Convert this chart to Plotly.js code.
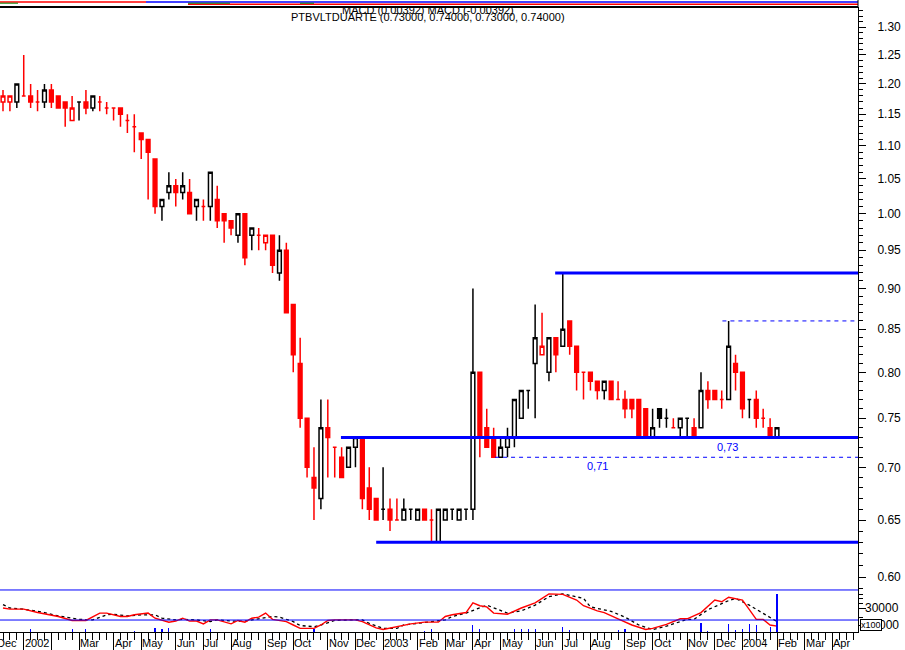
<!DOCTYPE html>
<html>
<head>
<meta charset="utf-8">
<script src="https://cdn.plot.ly/plotly-3.0.1.min.js"></script>
<style>
html,body{margin:0;padding:0;background:#fff;}
#chart{width:905px;height:650px;}
</style>
</head>
<body>
<div id="chart"></div>
<script>
// ---------- DATA (weekly candles, index 0 = mid Dec 2001) ----------
const opens = [1.17,1.17,1.17,1.18,1.18,1.17,1.17,1.19,1.18,1.17,
 1.14,1.17,1.17,1.16,1.17,1.16,1.16,1.16,1.14,1.13,
 1.12,1.11,1.08,1.01,1.03,1.04,1.03,1.03,1.01,1.01,
 1.01,1.02,1.00,0.99,0.97,1.00,0.97,0.97,0.96,0.97,
 0.92,0.95,0.88,0.81,0.75,0.69,0.67,0.74,0.72,0.71,
 0.70,0.72,0.73,0.68,0.67,0.66,0.66,0.65,0.65,0.66,
 0.65,0.66,0.65,0.63,0.65,0.66,0.65,0.66,0.66,0.80,
 0.74,0.73,0.71,0.72,0.73,0.75,0.78,0.81,0.82,0.80,
 0.84,0.83,0.86,0.83,0.80,0.80,0.79,0.78,0.79,0.77,
 0.77,0.77,0.77,0.76,0.73,0.76,0.75,0.74,0.74,0.75,
 0.74,0.74,0.78,0.78,0.77,0.77,0.81,0.80,0.77,0.77,
 0.75,0.74,0.73];
const highs = [1.19,1.18,1.20,1.25,1.20,1.19,1.20,1.20,1.18,1.17,
 1.18,1.17,1.19,1.18,1.18,1.17,1.16,1.16,1.15,1.15,
 1.12,1.11,1.08,1.02,1.06,1.05,1.06,1.05,1.02,1.02,
 1.06,1.04,1.00,0.99,1.00,1.00,0.98,0.98,0.97,0.97,
 0.97,0.96,0.88,0.84,0.75,0.72,0.77,0.77,0.72,0.72,
 0.72,0.73,0.73,0.70,0.67,0.70,0.67,0.67,0.67,0.66,
 0.66,0.66,0.66,0.66,0.66,0.66,0.66,0.66,0.90,0.80,
 0.76,0.74,0.73,0.74,0.77,0.78,0.78,0.88,0.87,0.84,
 0.84,0.92,0.86,0.83,0.80,0.80,0.79,0.79,0.79,0.79,
 0.78,0.77,0.77,0.76,0.76,0.76,0.76,0.75,0.75,0.75,
 0.75,0.80,0.79,0.78,0.78,0.86,0.82,0.80,0.77,0.78,
 0.76,0.75,0.74];
const lows = [1.155,1.155,1.16,1.18,1.16,1.155,1.16,1.16,1.16,1.13,
 1.14,1.14,1.15,1.155,1.155,1.15,1.14,1.13,1.12,1.09,
 1.08,1.02,1.00,0.99,1.02,1.01,1.02,1.00,0.99,0.99,
 0.99,0.98,0.96,0.97,0.96,0.93,0.95,0.95,0.95,0.92,
 0.91,0.87,0.80,0.74,0.69,0.65,0.66,0.69,0.69,0.69,
 0.70,0.70,0.66,0.65,0.65,0.65,0.64,0.65,0.65,0.65,
 0.65,0.65,0.63,0.63,0.65,0.65,0.65,0.65,0.65,0.71,
 0.72,0.71,0.71,0.71,0.72,0.75,0.76,0.75,0.82,0.79,
 0.80,0.83,0.82,0.78,0.77,0.78,0.77,0.77,0.77,0.77,
 0.75,0.75,0.73,0.73,0.73,0.74,0.74,0.74,0.73,0.73,
 0.73,0.74,0.76,0.77,0.76,0.77,0.78,0.75,0.75,0.74,
 0.74,0.73,0.73];
const closes = [1.18,1.18,1.20,1.18,1.17,1.17,1.19,1.17,1.16,1.16,
 1.16,1.17,1.16,1.18,1.17,1.16,1.16,1.15,1.14,1.13,
 1.11,1.09,1.01,1.02,1.04,1.03,1.04,1.00,1.02,1.01,
 1.06,0.99,0.99,0.98,1.00,0.94,0.98,0.97,0.97,0.93,
 0.95,0.87,0.82,0.75,0.70,0.68,0.74,0.73,0.72,0.69,
 0.72,0.73,0.67,0.66,0.65,0.66,0.65,0.65,0.66,0.66,
 0.66,0.65,0.65,0.66,0.66,0.66,0.66,0.66,0.80,0.73,
 0.72,0.71,0.72,0.73,0.77,0.78,0.78,0.84,0.83,0.84,
 0.82,0.85,0.83,0.80,0.80,0.79,0.78,0.79,0.77,0.77,
 0.76,0.76,0.73,0.73,0.74,0.75,0.75,0.74,0.75,0.75,
 0.73,0.78,0.77,0.77,0.77,0.83,0.80,0.76,0.77,0.75,
 0.75,0.73,0.74];

// month ticks (week index) and labels
const tickWeeks  = [-1,3,7,11,16,20,25,29,33,38,42,47,51,55,60,64,68,72,77,81,85,90,94,99,103,107,112,116,120];
const tickLabels = ["Dec","2002","","Mar","Apr","May","Jun","Jul","Aug","Sep","Oct","Nov","Dec","2003","Feb","Mar","Apr","May","Jun","Jul","Aug","Sep","Oct","Nov","Dec","2004","Feb","Mar","Apr"];

// price axis ticks
const priceTicks = [0.60,0.65,0.70,0.75,0.80,0.85,0.90,0.95,1.00,1.05,1.10,1.15,1.20,1.25,1.30];

// lower panel: oscillator (red), its signal (black dashed), volume (blue)
const macdWeeks  = [0,1,3,5,8,10,12,14,15,17,18,19,21,22,24,25,26,27,28,29,30,31,33,34,35,36,37,38,39,41,42,43,45,46,47,48,50,51,52,54,55,57,59,61,63,64,65,67,68,69,70,71,73,75,77,79,81,83,84,86,87,89,91,93,94,96,98,99,101,103,104,105,107,108,109,110,111,112];
const macdValues = [30,28,28,22,15,8,8,21,21,15,15,18,21,12,5,7,12,7,7,2,9,9,2,8,5,12,14,21,10,6,0,-6,-6,0,8,9,9,9,6,-5,-8,-3,2,5,5,15,18,22,39,34,32,21,19,30,39,55,54,44,34,25,22,11,0,-8,-6,1,11,11,22,44,41,49,44,27,10,10,0,-2];
const signalWeeks  = [0,1,3,6,8,11,13,15,16,18,20,22,23,25,26,28,30,31,33,35,37,39,40,42,43,45,46,48,50,52,53,55,57,58,60,62,64,65,67,70,71,73,75,77,79,81,84,85,88,90,92,94,96,99,100,102,105,106,108,110,112];
const signalValues = [36,30,28,22,16,10,9,18,19,16,18,18,12,9,10,9,6,9,7,7,11,15,14,6,-1,-3,0,8,9,9,3,-6,-6,0,3,6,9,15,21,35,30,21,25,35,50,55,47,32,24,14,0,-8,-2,10,10,27,43,47,35,21,6];
const volumeWeeks  = [4,10,12,19,22,23,24,30,45,61,62,68,69,74,75,76,77,81,82,89,90,101,102,105,106,107,108,109,111,112];
const volumeValues = [27,27,27,15,45,27,45,27,27,15,30,73,27,27,27,27,27,50,17,17,27,90,10,77,17,27,77,67,50,377];
const oscBands = [61.8, 8.8];

// support / resistance lines (price level, starting week)
const levelValues = [0.92, 0.73, 0.63];
const levelStartWeeks = [79.9, 48.9, 54.0];
const dashedLevelValues = [0.86, 0.71];
const dashedLevelStartWeeks = [104.1, 71.2];
const levelLabels = ["0,73", "0,71"];
const levelLabelWeeks = [104.9, 86.0];
const levelLabelPrices = [0.73, 0.71];

// ---------- BUILD ----------
const RED = '#ff0000', BLUE = '#0000ff', BLACK = '#000000';
const r0 = -0.4341, r1 = 123.72;
const toPaperX = w => (w - r0) / (r1 - r0);

const groups = {bh: [], rf: [], rh: [], bf: []};
let prevColor = 'r';
for (let i = 0; i < closes.length; i++) {
  let c = prevColor;
  if (i > 0) {
    if (closes[i] > closes[i - 1]) c = 'b';
    else if (closes[i] < closes[i - 1]) c = 'r';
  }
  prevColor = c;
  const filled = closes[i] < opens[i];
  groups[c + (filled ? 'f' : 'h')].push(i);
}
const styles = {
  bh: {line: BLACK, fill: '#ffffff'},
  rf: {line: RED, fill: RED},
  rh: {line: RED, fill: '#ffffff'},
  bf: {line: BLACK, fill: BLACK}
};
const traces = [];
Object.keys(groups).forEach(k => {
  const idx = groups[k];
  if (!idx.length) return;
  const st = styles[k];
  const side = {line: {color: st.line, width: 1.5}, fillcolor: st.fill};
  traces.push({
    type: 'candlestick', xaxis: 'x', yaxis: 'y',
    x: idx, open: idx.map(i => opens[i]), high: idx.map(i => highs[i]),
    low: idx.map(i => lows[i]), close: idx.map(i => closes[i]),
    increasing: side, decreasing: side, whiskerwidth: 0,
    hoverinfo: 'skip', showlegend: false
  });
});
traces.push({
  type: 'bar', xaxis: 'x', yaxis: 'y3', x: volumeWeeks, y: volumeValues,
  width: 0.16, marker: {color: BLUE, line: {width: 0}}, hoverinfo: 'skip'
});
traces.push({
  type: 'scatter', mode: 'lines', xaxis: 'x', yaxis: 'y2',
  x: signalWeeks, y: signalValues,
  line: {color: BLACK, width: 1.3, dash: '3px,3px'}, hoverinfo: 'skip'
});
traces.push({
  type: 'scatter', mode: 'lines', xaxis: 'x', yaxis: 'y2',
  x: macdWeeks, y: macdValues,
  line: {color: RED, width: 1.4}, hoverinfo: 'skip'
});

const minorPrice = [];
for (let v = 59; v <= 133; v++) minorPrice.push(v / 100);

const shapes = [];
// top border
shapes.push({type: 'line', xref: 'paper', yref: 'paper', x0: 0, x1: 1, y0: 1, y1: 1, line: {color: BLACK, width: 2}});
// decorative strip above the frame
const py = p => 1 + (7 - p) / 625;
const px = p => p / 858;
shapes.push({type: 'line', xref: 'paper', yref: 'paper', x0: px(0), x1: px(146), y0: py(2), y1: py(2), line: {color: RED, width: 1.5}});
shapes.push({type: 'line', xref: 'paper', yref: 'paper', x0: px(146), x1: px(858), y0: py(2), y1: py(2), line: {color: BLUE, width: 1.5}});
shapes.push({type: 'line', xref: 'paper', yref: 'paper', x0: px(188), x1: px(858), y0: py(4.2), y1: py(4.2), line: {color: RED, width: 1.5}});
shapes.push({type: 'line', xref: 'paper', yref: 'paper', x0: px(188), x1: px(230), y0: py(3.2), y1: py(3.2), line: {color: 'green', width: 1}});
shapes.push({type: 'line', xref: 'paper', yref: 'paper', x0: px(300), x1: px(314), y0: py(3.2), y1: py(3.2), line: {color: 'green', width: 1}});
shapes.push({type: 'line', xref: 'paper', yref: 'paper', x0: px(0), x1: px(18), y0: py(3.2), y1: py(3.2), line: {color: 'green', width: 1}});
shapes.push({type: 'line', xref: 'paper', yref: 'paper', x0: 1, x1: 1, y0: 1, y1: py(0), line: {color: BLACK, width: 1}});
// lower panel bands
oscBands.forEach(v => shapes.push({type: 'line', xref: 'paper', yref: 'y2', x0: 0, x1: 1, y0: v, y1: v, line: {color: BLUE, width: 1}}));
// support / resistance
levelValues.forEach((v, i) => shapes.push({type: 'line', xref: 'x', yref: 'y', x0: levelStartWeeks[i], x1: r1, y0: v, y1: v, line: {color: BLUE, width: 3}}));
dashedLevelValues.forEach((v, i) => shapes.push({type: 'line', xref: 'x', yref: 'y', x0: dashedLevelStartWeeks[i], x1: r1, y0: v, y1: v, line: {color: BLUE, width: 1, dash: '4px,4px'}}));

const annotations = [];
tickWeeks.forEach((w, i) => {
  if (!tickLabels[i]) return;
  annotations.push({
    xref: 'paper', yref: 'paper', x: toPaperX(w), y: 0, xanchor: 'left', yanchor: 'top',
    yshift: -4, text: tickLabels[i], showarrow: false, borderpad: 0,
    font: {size: 11, color: BLACK}
  });
});
annotations.push({xref: 'paper', yref: 'paper', x: 428 / 858, y: 1 - 2.5 / 625, xanchor: 'center', yanchor: 'middle',
  text: 'MACD (0.00392) MACD (-0.00392)', showarrow: false, font: {size: 11, color: BLACK}});
annotations.push({xref: 'paper', yref: 'paper', x: 428 / 858, y: 1 - 10 / 625, xanchor: 'center', yanchor: 'middle',
  text: 'PTBVLTDUARTE (0.73000, 0.74000, 0.73000, 0.74000)', showarrow: false, font: {size: 11, color: BLACK}});
levelLabels.forEach((t, i) => annotations.push({
  xref: 'x', yref: 'y', x: levelLabelWeeks[i], y: Math.log10(levelLabelPrices[i]),
  yanchor: 'top', xanchor: 'center', yshift: -1, text: t, showarrow: false,
  font: {size: 11, color: BLUE}
}));
annotations.push({xref: 'paper', yref: 'y2', x: 900 / 858, y: 30, xanchor: 'right', yanchor: 'middle',
  text: '30000', showarrow: false, borderpad: 0, font: {size: 12, color: BLACK}});
annotations.push({xref: 'paper', yref: 'y2', x: 900 / 858, y: 0, xanchor: 'right', yanchor: 'middle',
  text: '000', showarrow: false, borderpad: 0, font: {size: 12, color: BLACK}});
annotations.push({xref: 'paper', yref: 'y2', x: 860 / 858, y: 0, xanchor: 'left', yanchor: 'middle',
  text: 'x100', showarrow: false, borderpad: 0, bordercolor: BLACK, borderwidth: 1, bgcolor: '#ffffff',
  font: {size: 9, color: BLACK}});

const layout = {
  width: 905, height: 650,
  margin: {l: 0, r: 47, t: 7, b: 18, pad: 0},
  paper_bgcolor: '#ffffff', plot_bgcolor: '#ffffff',
  font: {family: 'Liberation Sans, Arial, sans-serif', size: 11, color: BLACK},
  showlegend: false,
  boxgap: 0.46, boxgroupgap: 0, bargap: 0,
  xaxis: {
    range: [r0, r1], anchor: 'y2', showgrid: false, zeroline: false,
    showline: true, linecolor: BLACK, linewidth: 1,
    tickmode: 'array', tickvals: tickWeeks.filter(w => w > r0 && w < r1),
    ticks: 'outside', ticklen: 18, tickwidth: 1, tickcolor: BLACK,
    showticklabels: false, rangeslider: {visible: false}, fixedrange: true,
    minor: {tickmode: 'linear', tick0: 0, dtick: 1, ticks: 'outside', ticklen: 7, tickwidth: 1, tickcolor: BLACK, showgrid: false}
  },
  yaxis: {
    type: 'log', domain: [0.0704, 1],
    range: [Math.log10(0.5908), Math.log10(1.3371)],
    side: 'right', anchor: 'x', showgrid: false, zeroline: false,
    showline: true, linecolor: BLACK, linewidth: 1,
    tickmode: 'array', tickvals: priceTicks, ticktext: priceTicks.map(v => v.toFixed(2)),
    ticks: 'outside', ticklen: 7, tickwidth: 1, tickcolor: BLACK,
    tickfont: {size: 12, color: BLACK}, ticklabelstandoff: 9, fixedrange: true,
    minor: {tickmode: 'array', tickvals: minorPrice, ticks: 'outside', ticklen: 4, tickwidth: 1, tickcolor: BLACK, showgrid: false}
  },
  yaxis2: {
    domain: [0, 0.0704], range: [-12.35, 65.3],
    side: 'right', anchor: 'x', showgrid: false, zeroline: false,
    showline: true, linecolor: BLACK, linewidth: 1,
    tickmode: 'array', tickvals: [0, 30], showticklabels: false,
    ticks: 'outside', ticklen: 7, tickwidth: 1, tickcolor: BLACK, fixedrange: true,
    minor: {tickmode: 'array', tickvals: [14.1, 38.8, 47.6, 53, 64], ticks: 'outside', ticklen: 4, tickwidth: 1, tickcolor: BLACK, showgrid: false}
  },
  yaxis3: {
    domain: [0, 0.0704], overlaying: 'y2', range: [0, 440], visible: false, fixedrange: true
  },
  shapes: shapes,
  annotations: annotations
};

Plotly.newPlot('chart', traces, layout, {staticPlot: true, displayModeBar: false});
</script>
</body>
</html>
